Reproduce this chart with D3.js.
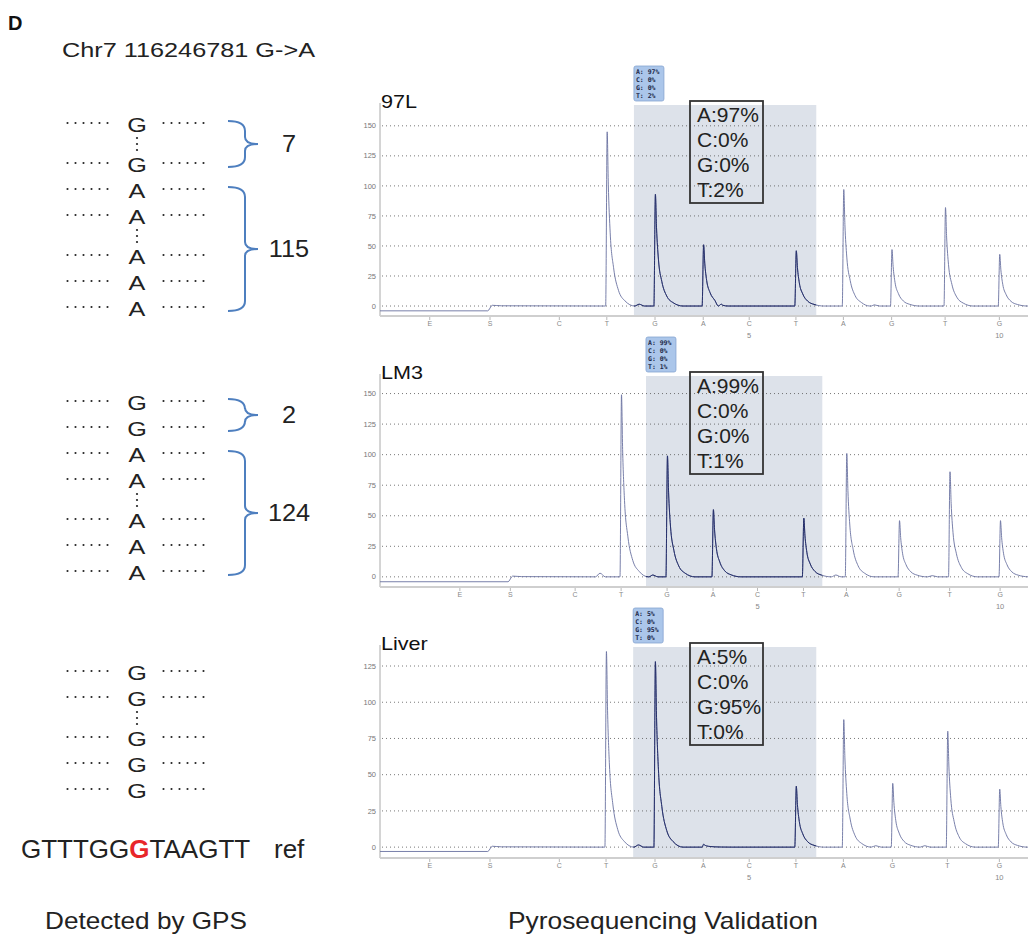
<!DOCTYPE html>
<html>
<head>
<meta charset="utf-8">
<script src="https://cdn.jsdelivr.net/npm/d3@7"></script>
<style>
body { margin: 0; background: #fff; }
svg { display: block; font-family: "Liberation Sans", Arial, sans-serif; }
</style>
</head>
<body>
<svg id="fig" width="1028" height="935"></svg>
<script>
// dispensation order of the pyrosequencing run (E = enzyme, S = substrate)
const dispensations = ['E', 'S', 'C', 'T', 'G', 'A', 'C', 'T', 'A', 'G', 'T', 'G'];
const dispNumbers = {6: '5', 11: '10'};
const samples = ['97L', 'LM3', 'Liver'];

// dispensation times (s) as they fall in each run
const dispTimes97L = [6.6, 14.6, 23.8, 30.1, 36.5, 42.9, 49.0, 55.2, 61.5, 67.9, 75.0, 82.2];
const dispTimesLM3 = [10.6, 17.3, 25.9, 32.0, 38.1, 44.2, 50.1, 56.2, 61.9, 68.9, 75.6, 82.3];
const dispTimesLiver = [6.6, 14.6, 23.8, 30.0, 36.5, 42.9, 49.0, 55.2, 61.5, 68.0, 75.3, 82.2];

// peak heights per dispensation
const peaks97L = [0, 0, 0, 145, 93, 51, 0, 46, 97, 47, 82, 43];
const peaksLM3 = [0, 0, 0, 149, 99, 55, 0, 48, 101, 46, 86, 46];
const peaksLiver = [0, 0, 0, 135, 128, 2, 0, 42, 88, 44, 80, 40];

// small background bumps [time, height]
const bumps97L = [[34.4, 1.5], [45.5, 0.6], [65.6, 1]];
const bumpsLM3 = [[29.2, 3], [36.2, 1.5], [60.5, 1.5], [73.3, 1]];
const bumpsLiver = [[34.3, 1.5], [65.8, 1], [72.3, 1]];

const preBaseline = [-4, -4, -3];
const yDomains = [[-8.3, 169], [-8.3, 166], [-7.5, 139.5]];
const yTicks = [
	[0, 25, 50, 75, 100, 125, 150],
	[0, 25, 50, 75, 100, 125, 150],
	[0, 25, 50, 75, 100, 125],
];
const shadeTimes = [[33.7, 57.9], [35.3, 58.7], [33.6, 57.9]];
const allelePct = [
	{A: 97, C: 0, G: 0, T: 2},
	{A: 99, C: 0, G: 0, T: 1},
	{A: 5, C: 0, G: 95, T: 0},
];

// shape of one pyrogram peak: [time offset (s), fraction of height]
const peakProfile = [[-0.15, 0], [0.05, 1], [0.2, 0.7], [0.45, 0.42], [0.9, 0.22], [1.55, 0.09], [2.4, 0.03], [3.7, 0]];
const bumpProfile = [[-0.6, 0], [0, 1], [0.7, 0]];

// reads detected by GPS (':' = elided reads)
const readRows = [
	['G', ':', 'G', 'A', 'A', ':', 'A', 'A', 'A'],
	['G', 'G', 'A', 'A', ':', 'A', 'A', 'A'],
	['G', 'G', ':', 'G', 'G', 'G'],
];
const readGroups = [
	[{allele: 'G', count: 7}, {allele: 'A', count: 115}],
	[{allele: 'G', count: 2}, {allele: 'A', count: 124}],
	[],
];
const refSeq = 'GTTTGGGTAAGTT';
const mutIndex = 6;

const svg = d3.select('#fig');
const panelTops = [105, 376, 647];
const readTops = [124, 402, 672];
const plotH = 211;
const x = d3.scaleLinear().domain([0, 86]).range([380, 1028]);
const traceData = [
	{times: dispTimes97L, heights: peaks97L, bumps: bumps97L},
	{times: dispTimesLM3, heights: peaksLM3, bumps: bumpsLM3},
	{times: dispTimesLiver, heights: peaksLiver, bumps: bumpsLiver},
];

function tracePoints(d, pre) {
	const s = d.times[1];
	const pts = [[0, pre], [s - 0.3, pre], [s + 0.3, 0.6], [s + 1.5, 0.2]];
	d.times.forEach((t, i) => {
		if (d.heights[i] > 0) peakProfile.forEach(([dt, f]) => pts.push([t + dt, d.heights[i] * f]));
	});
	d.bumps.forEach(([t, h]) => bumpProfile.forEach(([dt, f]) => pts.push([t + dt, h * f])));
	pts.push([86, 0]);
	return pts.sort((a, b) => a[0] - b[0]);
}

const defs = svg.append('defs');

samples.forEach((name, p) => {
	const T = panelTops[p];
	const y = d3.scaleLinear().domain(yDomains[p]).range([T + plotH, T - 2]);
	const g = svg.append('g');
	const [s0, s1] = shadeTimes[p];

	// shaded analysis window
	g.append('rect').attr('x', x(s0)).attr('y', T).attr('width', x(s1) - x(s0)).attr('height', plotH)
		.attr('fill', '#dde2ea');

	// dotted grid
	g.selectAll('line.grid').data(yTicks[p]).enter().append('line').classed('grid', true)
		.attr('x1', 382).attr('x2', 1028).attr('y1', d => y(d)).attr('y2', d => y(d))
		.attr('stroke', '#555').attr('stroke-width', 0.8).attr('stroke-dasharray', '1,3');

	// y axis
	g.append('line').attr('x1', 380).attr('x2', 380).attr('y1', y(yDomains[p][1])).attr('y2', T + plotH)
		.attr('stroke', '#aaa');
	g.selectAll('text.ytick').data(yTicks[p]).enter().append('text').classed('ytick', true)
		.attr('x', 376).attr('y', d => y(d)).attr('dy', '0.35em').attr('text-anchor', 'end')
		.attr('font-size', 7.5).attr('fill', '#777').text(d => d);

	// x axis
	g.append('line').attr('x1', 380).attr('x2', 1028).attr('y1', T + plotH).attr('y2', T + plotH)
		.attr('stroke', '#cfcfcf').attr('stroke-width', 2);
	const times = traceData[p].times;
	g.selectAll('line.xtick').data(times).enter().append('line').classed('xtick', true)
		.attr('x1', d => x(d)).attr('x2', d => x(d)).attr('y1', T + plotH + 1).attr('y2', T + plotH + 4)
		.attr('stroke', '#999').attr('stroke-width', 0.7);
	g.selectAll('text.xtick').data(times).enter().append('text').classed('xtick', true)
		.attr('x', d => x(d)).attr('y', T + plotH + 10).attr('text-anchor', 'middle')
		.attr('font-size', 7).attr('fill', '#888').text((d, i) => dispensations[i]);
	Object.keys(dispNumbers).forEach(i => {
		g.append('text').attr('x', x(times[i])).attr('y', T + plotH + 22).attr('text-anchor', 'middle')
			.attr('font-size', 7.5).attr('fill', '#888').text(dispNumbers[i]);
	});

	// trace
	const clipAll = 'clipAll' + p, clipShade = 'clipShade' + p;
	defs.append('clipPath').attr('id', clipAll).append('rect')
		.attr('x', 380).attr('y', T - 40).attr('width', 648).attr('height', plotH + 40);
	defs.append('clipPath').attr('id', clipShade).append('rect')
		.attr('x', x(s0)).attr('y', T - 40).attr('width', x(s1) - x(s0)).attr('height', plotH + 40);
	const line = d3.line().x(d => x(d[0])).y(d => y(d[1])).curve(d3.curveMonotoneX);
	const pts = tracePoints(traceData[p], preBaseline[p]);
	g.append('path').attr('d', line(pts)).attr('fill', 'none').attr('stroke', '#6a72a0')
		.attr('stroke-width', 0.9).attr('clip-path', `url(#${clipAll})`);
	g.append('path').attr('d', line(pts)).attr('fill', 'none').attr('stroke', '#26306a')
		.attr('stroke-width', 1).attr('clip-path', `url(#${clipShade})`);

	// sample label
	g.append('text').attr('transform', `translate(381,${T + 3}) scale(1.2,1)`)
		.attr('font-size', 18).attr('fill', '#111').text(name);

	// small software label
	const pct = allelePct[p];
	const bases = Object.keys(pct);
	g.append('rect').attr('x', x(s0)).attr('y', T - 39).attr('width', 30).attr('height', 35).attr('rx', 2)
		.attr('fill', '#abc6ea').attr('stroke', '#86a4d0').attr('stroke-width', 0.8);
	g.selectAll('text.small').data(bases).enter().append('text').classed('small', true)
		.attr('x', x(s0) + 2).attr('y', (d, i) => T - 31 + i * 8)
		.attr('font-family', '"DejaVu Sans Mono", monospace').attr('font-size', 6.5).attr('font-weight', 'bold')
		.attr('fill', '#1c2848').attr('xml:space', 'preserve').text(d => `${d}: ${pct[d]}%`);

	// large percentage box
	g.append('rect').attr('x', 690).attr('y', T - 4).attr('width', 73).attr('height', 102)
		.attr('fill', 'none').attr('stroke', '#333').attr('stroke-width', 1.8);
	g.selectAll('text.big').data(bases).enter().append('text').classed('big', true)
		.attr('x', 697).attr('y', (d, i) => T + 17 + i * 25).attr('font-size', 21).attr('fill', '#222')
		.text(d => `${d}:${pct[d]}%`);

	// reads detected by GPS
	const left = svg.append('g');
	const letters = [];
	let yy = readTops[p], prevY = null, pending = false;
	readRows[p].forEach(r => {
		if (r === ':') { pending = true; yy += 14; return; }
		if (pending) {
			const mid = (prevY + yy) / 2;
			left.selectAll(null).data([-6, 0, 6]).enter().append('circle')
				.attr('cx', 137).attr('cy', d => mid + d).attr('r', 1.1).attr('fill', '#222');
			pending = false;
		}
		letters.push({allele: r, y: yy});
		prevY = yy;
		yy += 26;
	});
	left.selectAll('text.read').data(letters).enter().append('text').classed('read', true)
		.attr('transform', d => `translate(137,${d.y + 7.5}) scale(1.2,1)`).attr('text-anchor', 'middle')
		.attr('font-size', 21).attr('fill', '#222').text(d => d.allele);
	const dotXs = [67.5, 75.5, 83.5, 91.5, 99.5, 107.5, 163.5, 171.5, 179.5, 187.5, 195.5, 203.5];
	letters.forEach(d => {
		left.selectAll(null).data(dotXs).enter().append('circle')
			.attr('cx', dx => dx).attr('cy', d.y - 1).attr('r', 1.05).attr('fill', '#222');
	});
	readGroups[p].forEach(grp => {
		const ys = letters.filter(d => d.allele === grp.allele).map(d => d.y);
		const top = d3.min(ys) - 3, bot = d3.max(ys) + 3, mid = (top + bot) / 2;
		left.append('path')
			.attr('d', `M228,${top} Q245,${top} 245,${top + 10} L245,${mid - 7} Q245,${mid} 258,${mid}` +
				` Q245,${mid} 245,${mid + 7} L245,${bot - 10} Q245,${bot} 228,${bot}`)
			.attr('fill', 'none').attr('stroke', '#4e7fbf').attr('stroke-width', 2);
		left.append('text').attr('transform', `translate(289,${mid + 8}) scale(1.1,1)`)
			.attr('text-anchor', 'middle').attr('font-size', 23).attr('fill', '#222').text(grp.count);
	});
});

// reference sequence
const ref = svg.append('text').attr('x', 21).attr('y', 858).attr('font-size', 26).attr('fill', '#222');
ref.append('tspan').text(refSeq.slice(0, mutIndex));
ref.append('tspan').attr('fill', '#e8262a').attr('font-weight', 'bold').text(refSeq[mutIndex]);
ref.append('tspan').text(refSeq.slice(mutIndex + 1));
svg.append('text').attr('x', 274).attr('y', 858).attr('font-size', 26).attr('fill', '#222').text('ref');

// titles
svg.append('text').attr('x', 8).attr('y', 30).attr('font-size', 20).attr('font-weight', 'bold').attr('fill', '#111').text('D');
svg.append('text').attr('x', 62).attr('y', 57).attr('font-size', 20).attr('fill', '#222')
	.attr('textLength', 253).attr('lengthAdjust', 'spacingAndGlyphs').text('Chr7 116246781 G->A');
svg.append('text').attr('x', 45).attr('y', 929).attr('font-size', 24).attr('fill', '#222')
	.attr('textLength', 202).attr('lengthAdjust', 'spacingAndGlyphs').text('Detected by GPS');
svg.append('text').attr('x', 508).attr('y', 929).attr('font-size', 24).attr('fill', '#222')
	.attr('textLength', 310).attr('lengthAdjust', 'spacingAndGlyphs').text('Pyrosequencing Validation');
</script>
</body>
</html>
